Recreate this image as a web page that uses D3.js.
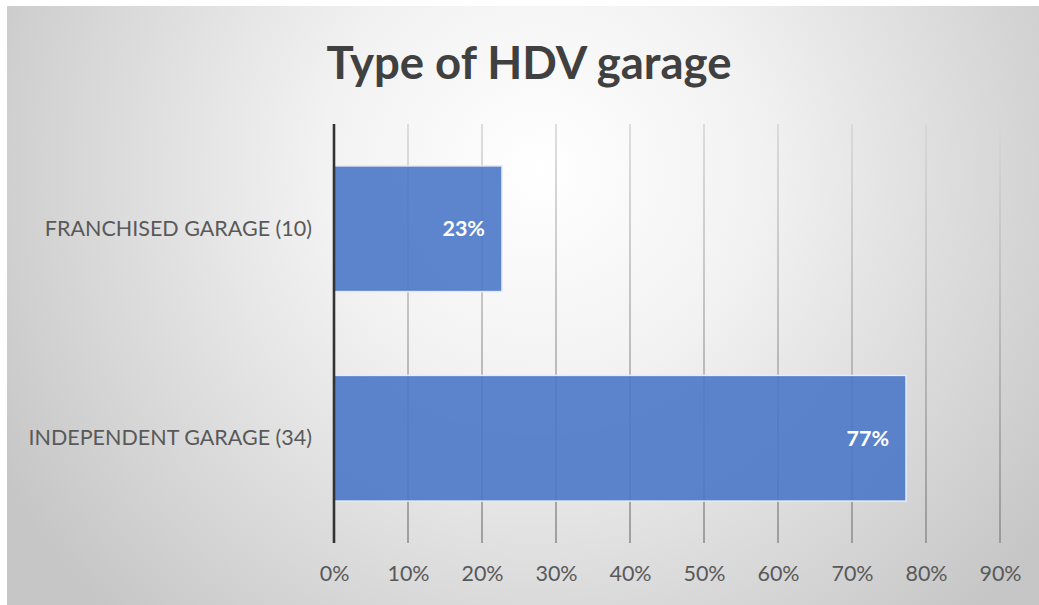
<!DOCTYPE html>
<html>
<head>
<meta charset="utf-8">
<script src="https://cdn.jsdelivr.net/npm/d3@7"></script>
<style>
  html, body { margin: 0; padding: 0; background: #ffffff; }
  svg { display: block; }
</style>
</head>
<body>
<script>
// Survey data: garage types among respondents (n = 44)
const categories = ["FRANCHISED GARAGE (10)", "INDEPENDENT GARAGE (34)"];
const shares = [0.227, 0.773];
const tickValues = [0, 0.1, 0.2, 0.3, 0.4, 0.5, 0.6, 0.7, 0.8, 0.9];
const chartTitle = "Type of HDV garage";

const W = 1039, H = 605;
const frame = { left: 7, top: 6 };
const plot = { left: 334, right: 1000, top: 124, bottom: 543 };

const svg = d3.select("body").append("svg")
  .attr("width", W).attr("height", H);

const defs = svg.append("defs");

// soft radial background
const bg = defs.append("radialGradient")
  .attr("id", "bgGrad")
  .attr("gradientUnits", "userSpaceOnUse")
  .attr("cx", 540).attr("cy", 170).attr("r", 620);
bg.append("stop").attr("offset", "0%").attr("stop-color", "#ffffff");
bg.append("stop").attr("offset", "35%").attr("stop-color", "#f2f2f2");
bg.append("stop").attr("offset", "100%").attr("stop-color", "#c6c6c6");

// gridlines darken towards the bottom of the plot
const gg = defs.append("linearGradient")
  .attr("id", "gridGrad")
  .attr("gradientUnits", "userSpaceOnUse")
  .attr("x1", 0).attr("y1", plot.top).attr("x2", 0).attr("y2", plot.bottom);
gg.append("stop").attr("offset", "0%").attr("stop-color", "#d6d6d6");
gg.append("stop").attr("offset", "100%").attr("stop-color", "#8e8e8e");

svg.append("rect")
  .attr("x", frame.left).attr("y", frame.top)
  .attr("width", W - frame.left).attr("height", H - frame.top)
  .attr("fill", "url(#bgGrad)");

const x = d3.scaleLinear().domain([0, 0.9]).range([plot.left, plot.right]);
const y = d3.scaleBand().domain(categories)
  .range([plot.top, plot.bottom])
  .paddingInner(0.4).paddingOuter(0.2);

const font = "Lato, 'Open Sans', sans-serif";

// vertical gridlines
svg.append("g")
  .selectAll("line")
  .data(tickValues.slice(1))
  .join("line")
  .attr("x1", d => x(d)).attr("x2", d => x(d))
  .attr("y1", plot.top).attr("y2", plot.bottom)
  .attr("stroke", "url(#gridGrad)")
  .attr("stroke-width", 1.6);

// bars
svg.append("g")
  .selectAll("rect")
  .data(categories)
  .join("rect")
  .attr("x", x(0))
  .attr("y", d => y(d))
  .attr("width", (d, i) => x(shares[i]) - x(0))
  .attr("height", y.bandwidth())
  .attr("fill", "#4a78c8")
  .attr("fill-opacity", 0.9)
  .attr("stroke", "#e4ecf8")
  .attr("stroke-width", 1.5);

// value labels inside bar ends
const pct = d3.format(".0%");
svg.append("g")
  .selectAll("text")
  .data(categories)
  .join("text")
  .attr("x", (d, i) => x(shares[i]) - 17)
  .attr("y", d => y(d) + y.bandwidth() / 2)
  .attr("dy", "0.36em")
  .attr("text-anchor", "end")
  .attr("font-family", font)
  .attr("font-weight", 700)
  .attr("font-size", 21.5)
  .attr("fill", "#ffffff")
  .text((d, i) => pct(shares[i]));

// category axis line
svg.append("line")
  .attr("x1", plot.left).attr("x2", plot.left)
  .attr("y1", plot.top).attr("y2", plot.bottom)
  .attr("stroke", "#333333")
  .attr("stroke-width", 2.6);

// category labels
const yAxis = svg.append("g")
  .attr("transform", `translate(${plot.left - 22},0)`)
  .call(d3.axisLeft(y).tickSize(0).tickPadding(0));
yAxis.select(".domain").remove();
yAxis.selectAll("text")
  .attr("font-family", font)
  .attr("font-size", 21.5)
  .attr("fill", "#595959");

// percentage axis labels
const xAxis = svg.append("g")
  .attr("transform", `translate(0,${plot.bottom + 23})`)
  .call(d3.axisBottom(x).tickValues(tickValues).tickFormat(d3.format(".0%")).tickSize(0).tickPadding(0));
xAxis.select(".domain").remove();
xAxis.selectAll("text")
  .attr("font-family", font)
  .attr("font-size", 21.5)
  .attr("fill", "#595959");

// title
svg.append("text")
  .attr("x", 529).attr("y", 79)
  .attr("text-anchor", "middle")
  .attr("font-family", font)
  .attr("font-weight", 700)
  .attr("font-size", 45.5)
  .attr("fill", "#404040")
  .text(chartTitle);
</script>
</body>
</html>
